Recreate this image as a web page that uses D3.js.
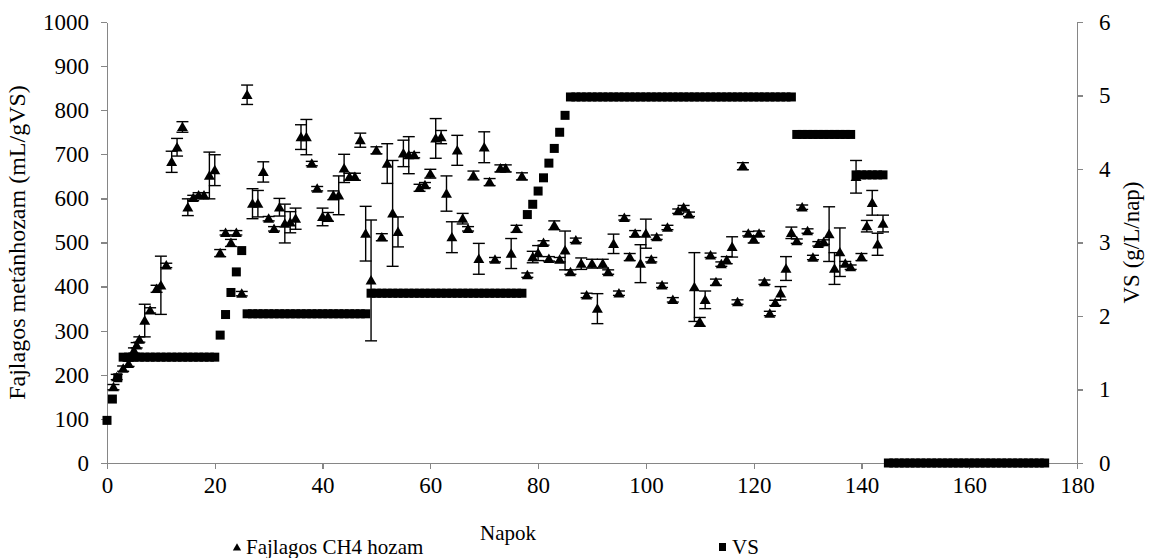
<!DOCTYPE html>
<html>
<head>
    <meta charset="utf-8">
    <script src="https://cdnjs.cloudflare.com/ajax/libs/d3/7.8.5/d3.min.js"></script>
    <style>
        body { margin: 0; background-color: #fff; }
        .axis path, .axis line { fill: none; stroke: #868686; stroke-width: 1.3px; shape-rendering: crispEdges; }
    </style>
</head>
<body>
    <svg width="1150" height="558"></svg>
    <script>
        var FONT = "'Liberation Serif', 'Times New Roman', 'DejaVu Serif', serif";

        // tick labels
        var xTicks = [0, 20, 40, 60, 80, 100, 120, 140, 160, 180];
        var leftTicks = [0, 100, 200, 300, 400, 500, 600, 700, 800, 900, 1000];
        var rightTicks = [0, 1, 2, 3, 4, 5, 6];

        // VS (g/L/nap), one value per day starting at day 0
        var vsValues = [
            0.58, 0.87, 1.16,
            1.44, 1.44, 1.44, 1.44, 1.44, 1.44, 1.44, 1.44, 1.44, 1.44, 1.44, 1.44, 1.44, 1.44, 1.44, 1.44, 1.44, 1.44,
            1.74, 2.02, 2.32, 2.60, 2.89,
            2.03, 2.03, 2.03, 2.03, 2.03, 2.03, 2.03, 2.03, 2.03, 2.03, 2.03, 2.03, 2.03, 2.03, 2.03, 2.03, 2.03, 2.03, 2.03, 2.03, 2.03, 2.03, 2.03,
            2.31, 2.31, 2.31, 2.31, 2.31, 2.31, 2.31, 2.31, 2.31, 2.31, 2.31, 2.31, 2.31, 2.31, 2.31, 2.31, 2.31, 2.31, 2.31, 2.31, 2.31, 2.31, 2.31, 2.31, 2.31, 2.31, 2.31, 2.31, 2.31,
            3.38, 3.52, 3.70, 3.88, 4.08, 4.28, 4.50, 4.73,
            4.98, 4.98, 4.98, 4.98, 4.98, 4.98, 4.98, 4.98, 4.98, 4.98, 4.98, 4.98, 4.98, 4.98, 4.98, 4.98, 4.98, 4.98, 4.98, 4.98, 4.98,
            4.98, 4.98, 4.98, 4.98, 4.98, 4.98, 4.98, 4.98, 4.98, 4.98, 4.98, 4.98, 4.98, 4.98, 4.98, 4.98, 4.98, 4.98, 4.98, 4.98, 4.98,
            4.47, 4.47, 4.47, 4.47, 4.47, 4.47, 4.47, 4.47, 4.47, 4.47, 4.47,
            3.92, 3.92, 3.92, 3.92, 3.92, 3.92,
            0, 0, 0, 0, 0, 0, 0, 0, 0, 0, 0, 0, 0, 0, 0, 0, 0, 0, 0, 0, 0, 0, 0, 0, 0, 0, 0, 0, 0, 0
        ];

        // Fajlagos CH4 hozam (mL/gVS) with error (+/-)
        var ch4Days = [1.2, 1.8, 3, 4, 5, 5.5, 6, 7, 8, 9.2, 10, 11,
            12, 13, 14, 15, 16, 17, 18, 19, 20, 21, 22, 23, 24, 25, 26, 27, 28, 29, 30, 31,
            32, 33, 34, 35, 36, 37, 38, 39, 40, 41, 42, 43, 44, 45, 46, 47, 48, 49, 50, 51,
            52, 53, 54, 55, 56, 57, 58, 59, 60, 61, 62, 63, 64, 65, 66, 67, 68, 69, 70, 71,
            72, 73, 74, 75, 76, 77, 78, 79, 80, 81, 82, 83, 84, 85, 86, 87, 88, 89, 90, 91,
            92, 93, 94, 95, 96, 97, 98, 99, 100, 101, 102, 103, 104, 105, 106, 107, 108, 109, 110, 111,
            112, 113, 114, 115, 116, 117, 118, 119, 120, 121, 122, 123, 124, 125, 126, 127, 128, 129, 130, 131,
            132, 133, 134, 135, 136, 137, 138, 139, 140, 141, 142, 143, 144];
        var ch4Values = [172, 195, 214, 225, 255, 267, 280, 323, 346, 395, 403, 448,
            683, 716, 762, 580, 601, 607, 607, 652, 664, 476, 522, 499, 522, 384, 835, 588, 588, 660, 554, 531,
            580, 543, 546, 554, 739, 739, 679, 622, 558, 558, 607, 607, 668, 649, 649, 732, 520, 414, 709, 512,
            679, 566, 524, 702, 698, 698, 624, 630, 656, 736, 739, 611, 512, 709, 554, 531, 652, 463, 716, 637,
            461, 668, 668, 475, 531, 650, 426, 467, 476, 499, 463, 539, 461, 482, 433, 505, 452, 380, 452, 350,
            452, 433, 497, 385, 556, 467, 520, 452, 520, 461, 512, 403, 534, 370, 571, 579, 564, 399, 320, 370,
            471, 410, 451, 460, 490, 365, 673, 520, 507, 520, 410, 339, 363, 385, 441, 522, 503, 580, 526, 466,
            497, 501, 519, 441, 478, 452, 444, 649, 467, 537, 590, 496, 543];
        var ch4Errors = [6, 6, 6, 6, 6, 6, 6, 37, 6, 8, 66, 5,
            24, 20, 12, 19, 6, 6, 6, 53, 35, 8, 5, 8, 5, 5, 22, 34, 30, 23, 5, 5,
            20, 44, 24, 24, 28, 40, 5, 5, 20, 10, 10, 44, 32, 8, 8, 16, 62, 137, 8, 8,
            45, 120, 34, 30, 42, 6, 8, 6, 10, 45, 15, 40, 35, 34, 12, 5, 10, 35, 35, 8,
            5, 8, 8, 34, 8, 8, 5, 13, 17, 5, 5, 10, 5, 44, 5, 5, 13, 5, 10, 34,
            10, 5, 22, 5, 5, 8, 7, 43, 33, 5, 5, 5, 5, 5, 5, 5, 5, 78, 10, 20,
            5, 7, 5, 8, 23, 5, 8, 5, 8, 6, 5, 5, 6, 15, 27, 13, 5, 5, 5, 5,
            5, 5, 62, 36, 55, 5, 5, 37, 8, 13, 28, 25, 19];

        var svg = d3.select("svg").style("font-family", FONT),
            margin = {top: 22, right: 73, bottom: 95, left: 107},
            width = svg.attr("width") - margin.left - margin.right,
            height = svg.attr("height") - margin.top - margin.bottom,
            g = svg.append("g").attr("transform", "translate(" + margin.left + "," + margin.top + ")");

        var x = d3.scaleLinear().domain([0, 180]).range([0, width]),
            yL = d3.scaleLinear().domain([0, 1000]).range([height, 0]),
            yR = d3.scaleLinear().domain([0, 6]).range([height, 0]);

        //axes
        g.append("g")
            .attr("class", "axis")
            .call(d3.axisLeft(yL).tickValues(leftTicks).tickFormat(d3.format("d")).tickSize(6).tickSizeOuter(0).tickPadding(12));
        g.append("g")
            .attr("class", "axis")
            .attr("transform", "translate(" + width + ",0)")
            .call(d3.axisRight(yR).tickValues(rightTicks).tickFormat(d3.format("d")).tickSize(6).tickSizeOuter(0).tickPadding(16));
        g.append("g")
            .attr("class", "axis")
            .attr("transform", "translate(0," + height + ")")
            .call(d3.axisBottom(x).tickValues(xTicks).tickSize(6).tickSizeOuter(0).tickPadding(8));

        g.selectAll(".axis").attr("font-family", null);
        g.selectAll(".axis text")
            .style("font-family", FONT)
            .style("font-size", "23px")
            .style("fill", "#000");

        // VS squares
        g.selectAll(".vs")
            .data(vsValues)
            .enter()
            .append("rect")
            .attr("class", "vs")
            .attr("x", function(d, i) { return x(i) - 4.5; })
            .attr("y", function(d) { return yR(d) - 4.5; })
            .attr("width", 9)
            .attr("height", 9)
            .style("fill", "#000");

        var ch4 = ch4Days.map(function(d, i) {
            return {day: d, value: ch4Values[i], err: ch4Errors[i]};
        });

        // error bars
        var eb = g.selectAll(".err")
            .data(ch4)
            .enter()
            .append("g")
            .attr("class", "err")
            .style("stroke", "#000")
            .style("stroke-width", 1.4);
        eb.append("line")
            .attr("x1", function(d) { return x(d.day); })
            .attr("x2", function(d) { return x(d.day); })
            .attr("y1", function(d) { return yL(d.value - d.err); })
            .attr("y2", function(d) { return yL(d.value + d.err); });
        eb.append("line")
            .attr("x1", function(d) { return x(d.day) - 6; })
            .attr("x2", function(d) { return x(d.day) + 6; })
            .attr("y1", function(d) { return yL(d.value - d.err); })
            .attr("y2", function(d) { return yL(d.value - d.err); });
        eb.append("line")
            .attr("x1", function(d) { return x(d.day) - 6; })
            .attr("x2", function(d) { return x(d.day) + 6; })
            .attr("y1", function(d) { return yL(d.value + d.err); })
            .attr("y2", function(d) { return yL(d.value + d.err); });

        // triangles
        var tri = d3.symbol().type(d3.symbolTriangle).size(52);
        g.selectAll(".ch4")
            .data(ch4)
            .enter()
            .append("path")
            .attr("class", "ch4")
            .attr("d", tri)
            .attr("transform", function(d) { return "translate(" + x(d.day) + "," + (yL(d.value) + 1) + ")"; })
            .style("fill", "#000");

        // axis titles
        svg.append("text")
            .attr("transform", "translate(25," + (margin.top + height / 2) + ") rotate(-90)")
            .attr("text-anchor", "middle")
            .style("font-size", "24px")
            .text("Fajlagos metánhozam (mL/gVS)");
        svg.append("text")
            .attr("transform", "translate(1139," + (margin.top + height / 2) + ") rotate(-90)")
            .attr("text-anchor", "middle")
            .style("font-size", "23px")
            .text("VS (g/L/nap)");
        svg.append("text")
            .attr("x", 508)
            .attr("y", 540)
            .attr("text-anchor", "middle")
            .style("font-size", "21px")
            .text("Napok");

        // legend
        var legend = svg.append("g").attr("class", "legend");
        legend.append("path")
            .attr("d", d3.symbol().type(d3.symbolTriangle).size(30))
            .attr("transform", "translate(237,548)");
        legend.append("text")
            .attr("x", 246)
            .attr("y", 554)
            .style("font-size", "21px")
            .text("Fajlagos CH4 hozam");
        legend.append("rect")
            .attr("x", 719)
            .attr("y", 543)
            .attr("width", 7)
            .attr("height", 8);
        legend.append("text")
            .attr("x", 732)
            .attr("y", 554)
            .style("font-size", "21px")
            .text("VS");
    </script>
</body>
</html>
